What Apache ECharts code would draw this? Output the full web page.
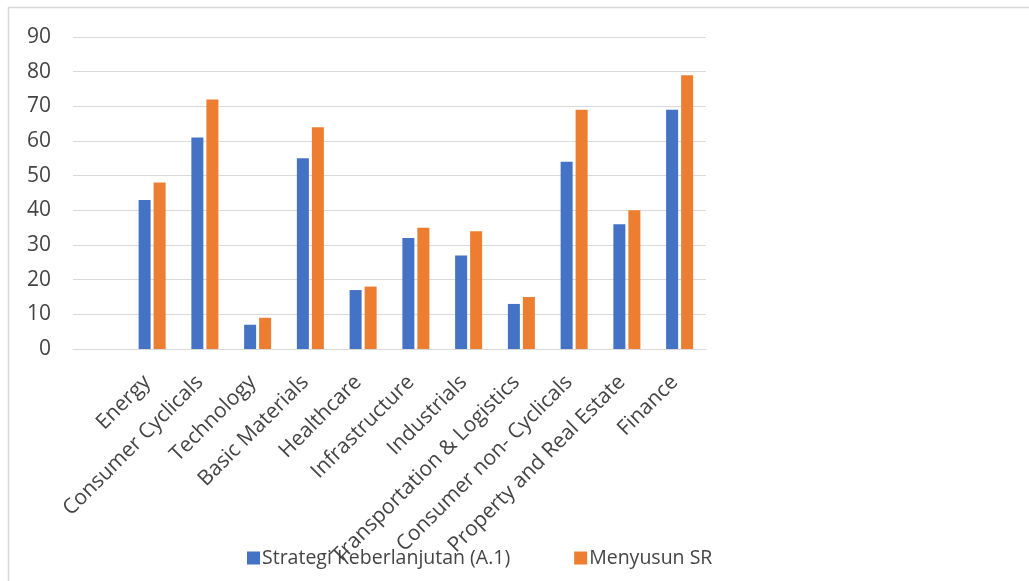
<!DOCTYPE html>
<html>
<head>
<meta charset="utf-8">
<script src="https://cdn.jsdelivr.net/npm/echarts@6/dist/echarts.min.js"></script>
<style>
  html, body { margin: 0; padding: 0; background: #fff; }
  #chart { width: 1029px; height: 581px; }
</style>
</head>
<body>
<div id="chart"></div>
<script>
// Sectors (the first slot is an empty, unlabeled category)
const sectors = ['', 'Energy', 'Consumer Cyclicals', 'Technology', 'Basic Materials', 'Healthcare',
  'Infrastructure', 'Industrials', 'Transportation & Logistics', 'Consumer non- Cyclicals',
  'Property and Real Estate', 'Finance'];
const strategiKeberlanjutan = [null, 43, 61, 7, 55, 17, 32, 27, 13, 54, 36, 69];
const menyusunSR = [null, 48, 72, 9, 64, 18, 35, 34, 15, 69, 40, 79];
const yTicks = { min: 0, max: 90, step: 10 };

const textColor = '#444444';
const fontFamily = '"Open Sans", "Noto Sans", sans-serif';

const chart = echarts.init(document.getElementById('chart'), null, { renderer: 'canvas' });
chart.setOption({
  animation: false,
  backgroundColor: '#fff',
  textStyle: { fontFamily: fontFamily },
  graphic: [{
    type: 'rect',
    shape: { x: 8.5, y: 7.5, width: 1040, height: 600 },
    style: { fill: 'none', stroke: '#d9d9d9', lineWidth: 1.5 },
    silent: true
  }],
  grid: { left: 73, right: 323, top: 37, bottom: 232, containLabel: false },
  legend: {
    left: 242,
    top: 543,
    itemWidth: 13,
    itemHeight: 13,
    itemGap: 64,
    icon: 'rect',
    textStyle: { color: textColor, fontSize: 19.5, fontFamily: fontFamily, padding: [0, 0, 0, -3] },
    data: ['Strategi Keberlanjutan (A.1)', 'Menyusun SR']
  },
  xAxis: {
    type: 'category',
    data: sectors,
    axisLine: { show: true, lineStyle: { color: '#d9d9d9', width: 1 } },
    axisTick: { show: false },
    axisLabel: {
      interval: 0,
      rotate: 45,
      margin: 25,
      padding: [0, 7, 0, 0],
      color: textColor,
      fontSize: 21,
      fontFamily: fontFamily
    }
  },
  yAxis: {
    type: 'value',
    min: yTicks.min,
    max: yTicks.max,
    interval: yTicks.step,
    axisLine: { show: false },
    axisTick: { show: false },
    splitLine: { lineStyle: { color: '#d9d9d9', width: 1 } },
    axisLabel: { color: textColor, fontSize: 21, margin: 22, fontFamily: fontFamily }
  },
  series: [
    {
      name: 'Strategi Keberlanjutan (A.1)',
      type: 'bar',
      data: strategiKeberlanjutan,
      barWidth: 12,
      barGap: '25%',
      itemStyle: { color: '#4472C4' }
    },
    {
      name: 'Menyusun SR',
      type: 'bar',
      data: menyusunSR,
      barWidth: 12,
      barGap: '25%',
      itemStyle: { color: '#ED7D31' }
    }
  ]
});
</script>
</body>
</html>
